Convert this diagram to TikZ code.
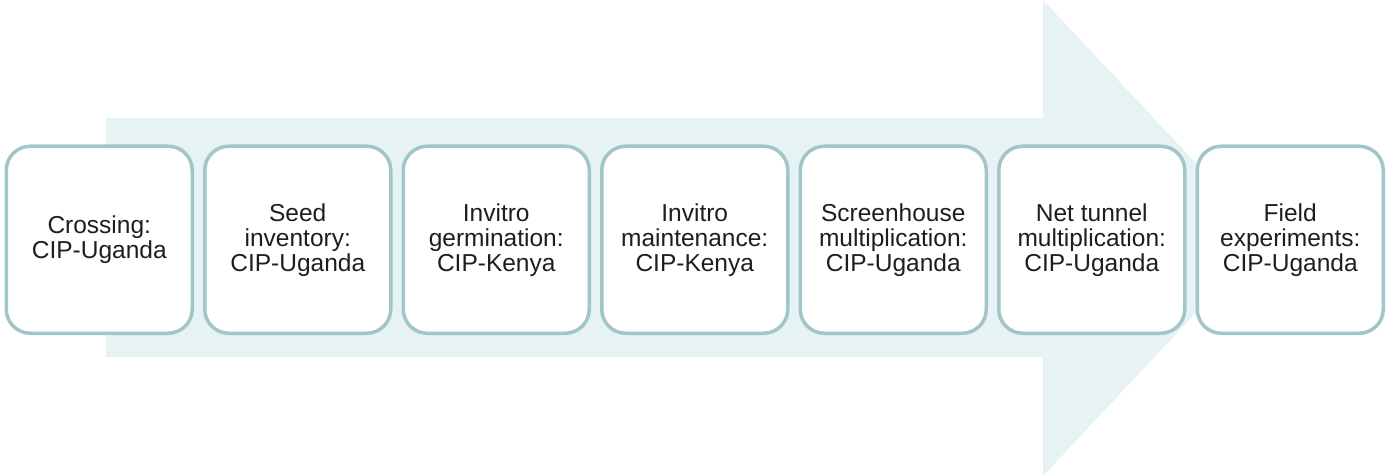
\documentclass[tikz,border=0pt]{standalone}
\usepackage{fontspec}
\setmainfont{Liberation Sans}
\begin{document}
\begin{tikzpicture}[x=1pt,y=-1pt,
  stagebox/.style={draw=boxedge, line width=3.5pt, fill=white, rounded corners=24pt,
    minimum width=186pt, minimum height=187pt, anchor=north west, inner sep=0pt,
    align=center, text=textgray, font=\fontsize{24.5}{25}\selectfont}]
\definecolor{boxedge}{HTML}{A2C6C8}
\definecolor{arrowfill}{HTML}{E6F2F4}
\definecolor{textgray}{HTML}{1E1E1E}
\useasboundingbox (0,0) rectangle (1387,476);
% large process arrow behind the stages
\fill[arrowfill] (106,118) -- (1043,118) -- (1043,0) -- (1266,238)
  -- (1043,476) -- (1043,357) -- (106,357) -- cycle;
% stages
\node[stagebox] (s1) at (4.5,144.5) {Crossing:\\CIP-Uganda};
\node[stagebox] (s2) at (203,144.5) {Seed\\inventory:\\CIP-Uganda};
\node[stagebox] (s3) at (401.5,144.5) {Invitro\\germination:\\CIP-Kenya};
\node[stagebox] (s4) at (600,144.5) {Invitro\\maintenance:\\CIP-Kenya};
\node[stagebox] (s5) at (798.5,144.5) {Screenhouse\\multiplication:\\CIP-Uganda};
\node[stagebox] (s6) at (997,144.5) {Net tunnel\\multiplication:\\CIP-Uganda};
\node[stagebox] (s7) at (1195.5,144.5) {Field\\experiments:\\CIP-Uganda};
\end{tikzpicture}
\end{document}
